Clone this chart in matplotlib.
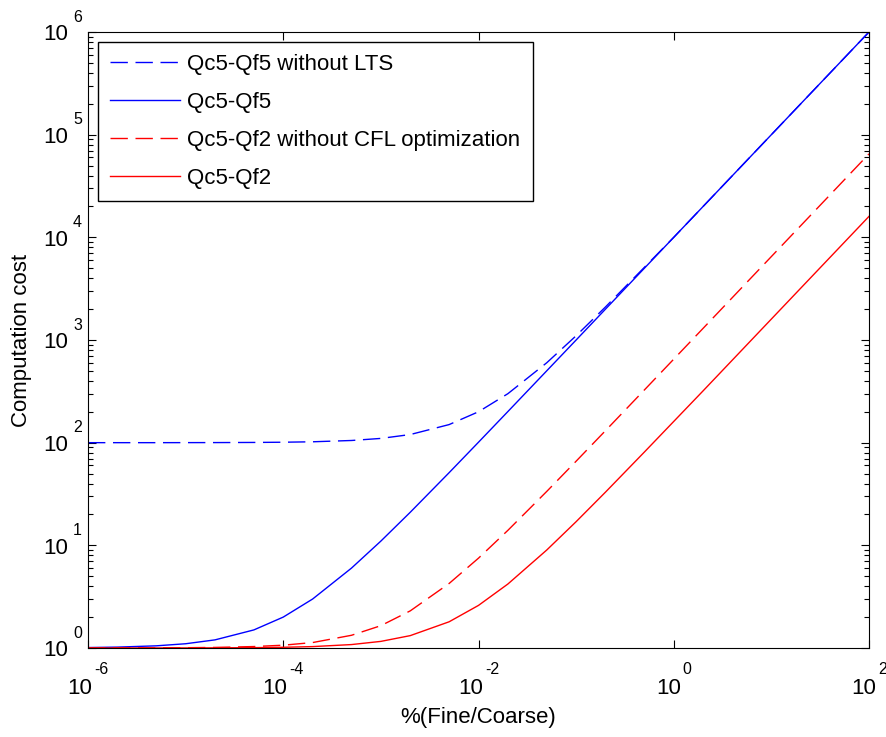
import numpy as np
import matplotlib
matplotlib.use('Agg')
import matplotlib.pyplot as plt
import matplotlib.ticker as mticker
from matplotlib.transforms import ScaledTranslation, blended_transform_factory

# ---------------- data ----------------
ratio = [1e-6, 2e-6, 5e-6, 1e-5, 2e-5, 5e-5, 1e-4, 2e-4, 5e-4, 1e-3,
         2e-3, 5e-3, 1e-2, 2e-2, 5e-2, 0.1, 0.2, 0.5, 1, 2,
         5, 10, 20, 50, 100]
qf5_no_lts = [100, 100, 100, 100.1, 100.2, 100.5, 101, 102, 105, 110,
              120, 150, 200, 300, 600, 1100, 2100, 5100, 1.0e4, 2.0e4,
              5.0e4, 1.0e5, 2.0e5, 5.0e5, 1.0e6]
qf5 = [1.01, 1.02, 1.05, 1.1, 1.2, 1.5, 2.0, 3.0, 6.0, 11,
       21, 51, 101, 201, 501, 1000, 2000, 5000, 1.0e4, 2.0e4,
       5.0e4, 1.0e5, 2.0e5, 5.0e5, 1.0e6]
qf2_no_cfl = [1.0, 1.0013, 1.0033, 1.0065, 1.013, 1.033, 1.065, 1.13, 1.33, 1.65,
              2.3, 4.25, 7.5, 14, 33.5, 66, 131, 326, 651, 1300,
              3250, 6500, 13000, 32500, 65000]
qf2 = [1.0, 1.0003, 1.0008, 1.0016, 1.0032, 1.008, 1.016, 1.032, 1.08, 1.16,
       1.32, 1.8, 2.6, 4.2, 9, 17, 33, 81, 161, 320,
       800, 1600, 3200, 8000, 16000]

series_labels = ['Qc5-Qf5 without LTS', 'Qc5-Qf5',
                 'Qc5-Qf2 without CFL optimization', 'Qc5-Qf2']
xtick_vals = [1e-6, 1e-4, 1e-2, 1e0, 1e2]
xtick_exps = ['-6', '-4', '-2', '0', '2']
ytick_vals = [1e0, 1e1, 1e2, 1e3, 1e4, 1e5, 1e6]
ytick_exps = ['0', '1', '2', '3', '4', '5', '6']
xlabel = '%(Fine/Coarse)'
ylabel = 'Computation cost'

# ---------------- figure ----------------
DPI = 100
W, H = 886, 737
plt.rcParams['font.family'] = ['Liberation Sans', 'DejaVu Sans']
fig = plt.figure(figsize=(W / DPI, H / DPI), dpi=DPI)
L, R, T, B = 88, 869, 32, 648
ax = fig.add_axes([L / W, (H - B) / H, (R - L) / W, (B - T) / H])

blue = '#0000ff'
red = '#ff0000'
lw = 1.0
dash = (12.5, 5.5)
ax.plot(ratio, qf5_no_lts, color=blue, lw=lw, dashes=dash, label=series_labels[0])
ax.plot(ratio, qf5, color=blue, lw=lw, label=series_labels[1])
ax.plot(ratio, qf2_no_cfl, color=red, lw=lw, dashes=dash, label=series_labels[2])
ax.plot(ratio, qf2, color=red, lw=lw, label=series_labels[3])

ax.set_xscale('log')
ax.set_yscale('log')
ax.set_xlim(1e-6, 1e2)
ax.set_ylim(1e0, 1e6)

ax.xaxis.set_major_locator(mticker.FixedLocator(xtick_vals))
ax.xaxis.set_minor_locator(mticker.NullLocator())
ax.yaxis.set_major_locator(mticker.LogLocator(base=10, numticks=20))
ax.yaxis.set_minor_locator(mticker.LogLocator(base=10, subs=np.arange(2, 10), numticks=20))
ax.tick_params(which='both', direction='in', top=True, right=True,
               labelbottom=False, labelleft=False, color='black', width=0.8)
ax.tick_params(which='major', length=6)
ax.tick_params(which='minor', length=3.3)
for s in ax.spines.values():
    s.set_linewidth(0.8)
    s.set_color('black')

# ---------------- MATLAB-style tick labels ----------------
big = 16
small = 11.5
def off(dx, dy):
    return ScaledTranslation(dx / DPI, dy / DPI, fig.dpi_scale_trans)

bx = blended_transform_factory(ax.transData, ax.transAxes)
by = blended_transform_factory(ax.transAxes, ax.transData)

xitems = []
for v, e in zip(xtick_vals, xtick_exps):
    t10 = ax.text(v, 0, '10', transform=bx, ha='left', va='center',
                  fontsize=big, clip_on=False)
    te = ax.text(v, 0, e, transform=bx, ha='left', va='center',
                 fontsize=small, clip_on=False)
    xitems.append((t10, te))

for v, e in zip(ytick_vals, ytick_exps):
    ax.text(0, v, '10', transform=by + off(-20, -3), ha='right', va='center',
            fontsize=big, clip_on=False)
    ax.text(0, v, e, transform=by + off(-15, 15), ha='left', va='center',
            fontsize=small, clip_on=False)

ax.set_xlabel(xlabel, fontsize=big)
ax.set_ylabel(ylabel, fontsize=big)
ax.xaxis.set_label_coords(0.5, -70 / (B - T))
ax.xaxis.label.set_va('center')
ax.yaxis.set_label_coords(-66 / (R - L), 0.5)
ax.yaxis.label.set_va('center')

leg = ax.legend(loc='upper left', fontsize=big, handlelength=3.15,
                handletextpad=0.32, labelspacing=0.76, borderpad=0.55,
                borderaxespad=0.45, fancybox=False, framealpha=1,
                edgecolor='black')
leg.get_frame().set_linewidth(1.0)

fig.canvas.draw()
rend = fig.canvas.get_renderer()
gap = 2
for t10, te in xitems:
    w10 = t10.get_window_extent(rend).width
    we = te.get_window_extent(rend).width
    tot = w10 + gap + we
    t10.set_transform(bx + off(-tot / 2, -41))
    te.set_transform(bx + off(-tot / 2 + w10 + gap, -22))

fig.savefig('out.png', dpi=DPI)
